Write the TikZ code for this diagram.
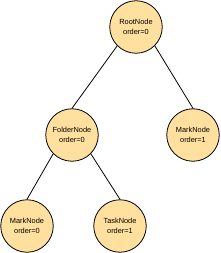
\documentclass[tikz,border=0pt]{standalone}
\usepackage{fontspec}
\setmainfont{Liberation Sans}
\begin{document}
\begin{tikzpicture}[x=1pt,y=-1pt,
  tnode/.style={circle,draw=black,fill=treefill,line width=0.8pt,minimum size=52.5pt,inner sep=0pt,align=center,font=\fontsize{7.4}{10}\selectfont},
  edge/.style={draw=black,line width=0.8pt}]
\definecolor{treefill}{HTML}{FFE09E}
\useasboundingbox (0,0) rectangle (221,253);
\node[tnode] (root) at (136,27) {RootNode\\order=0};
\node[tnode] (folder) at (72,135) {FolderNode\\order=0};
\node[tnode] (mark1) at (193,135) {MarkNode\\order=1};
\node[tnode] (mark0) at (27,226) {MarkNode\\order=0};
\node[tnode] (task) at (120,226) {TaskNode\\order=1};
\draw[edge] (root.225) -- (folder.north);
\draw[edge] (root.315) -- (mark1.north);
\draw[edge] (folder.225) -- (mark0.north);
\draw[edge] (folder.315) -- (task.north);
\end{tikzpicture}
\end{document}
